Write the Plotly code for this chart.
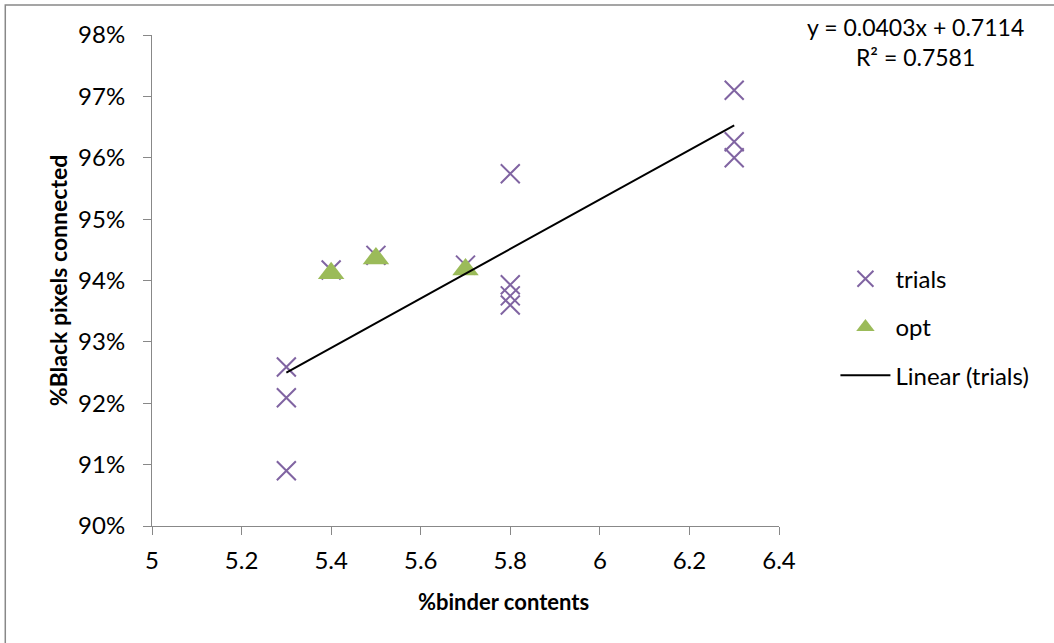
import plotly.graph_objects as go

trial_x = [5.3, 5.3, 5.3, 5.4, 5.5, 5.7, 5.8, 5.8, 5.8, 5.8, 6.3, 6.3, 6.3]
trial_y = [0.9259, 0.9209, 0.9090, 0.9417, 0.9441, 0.9425, 0.9574, 0.9393, 0.9375, 0.9360, 0.9710, 0.9626, 0.9600]
opt_x = [5.4, 5.5, 5.7]
opt_y = [0.9412, 0.9436, 0.9418]
slope = 0.0403
intercept = 0.7114
r2 = 0.7581
x_ticks = [5, 5.2, 5.4, 5.6, 5.8, 6, 6.2, 6.4]
y_ticks = [0.90, 0.91, 0.92, 0.93, 0.94, 0.95, 0.96, 0.97, 0.98]

fit_x = [min(trial_x), max(trial_x)]
fit_y = [slope * v + intercept for v in fit_x]

FONT = "Lato, Open Sans, sans-serif"
fig = go.Figure()
fig.add_trace(go.Scatter(x=trial_x, y=trial_y, mode="markers", name="trials",
                         legendgroup="a",
                         marker=dict(symbol="x-thin-open", size=19, color="#8064A2",
                                     line=dict(color="#8064A2", width=2))))
fig.add_trace(go.Scatter(x=opt_x, y=opt_y, mode="markers", name="opt",
                         legendgroup="b",
                         marker=dict(symbol="triangle-up", size=23, color="#9BBB59")))
fig.add_trace(go.Scatter(x=fit_x, y=fit_y, mode="lines", name="Linear (trials)",
                         legendgroup="c",
                         line=dict(color="black", width=2)))

fig.update_layout(
    width=1054, height=643,
    margin=dict(l=152, r=275, t=35, b=117, autoexpand=False),
    paper_bgcolor="white", plot_bgcolor="white",
    font=dict(family=FONT, size=24, color="black"),
    showlegend=True,
    legend=dict(x=1.09, y=0.405, xanchor="left", yanchor="middle",
                traceorder="grouped", tracegroupgap=14, itemwidth=50,
                font=dict(size=24, family=FONT)),
    xaxis=dict(range=[5, 6.4], tickvals=x_ticks, ticktext=[f"{v:g}" for v in x_ticks],
               automargin=False, ticklabelstandoff=5,
               showgrid=False, zeroline=False, showline=True, linecolor="#888888",
               linewidth=1, ticks="outside", ticklen=8, tickcolor="#888888"),
    yaxis=dict(range=[0.90, 0.98], tickvals=y_ticks, tickformat=".0%",
               automargin=False, ticklabelstandoff=13,
               showgrid=False, zeroline=False, showline=True, linecolor="#888888",
               linewidth=1, ticks="outside", ticklen=8, tickcolor="#888888",
               title=dict(text="<b>%Black pixels connected</b>", font=dict(size=23), standoff=4)),
    shapes=[dict(type="rect", xref="paper", yref="paper",
                 x0=-0.234, x1=1.6, y0=-0.4, y1=1.061,
                 line=dict(color="#888888", width=1.5), fillcolor="rgba(0,0,0,0)")],
    annotations=[
        dict(xref="paper", yref="paper", x=1.217, y=1.049,
             xanchor="center", yanchor="top", showarrow=False, align="center",
             text=f"y = {slope}x + {intercept}<br>R² = {r2}",
             font=dict(size=23, family=FONT)),
        dict(xref="paper", yref="paper", x=0.56, y=-0.153,
             xanchor="center", yanchor="middle", showarrow=False,
             text="<b>%binder contents</b>", font=dict(size=22, family=FONT)),
    ],
)
fig.write_html("out.html", config={"displayModeBar": False},
               post_script="document.body.style.margin='0';")
